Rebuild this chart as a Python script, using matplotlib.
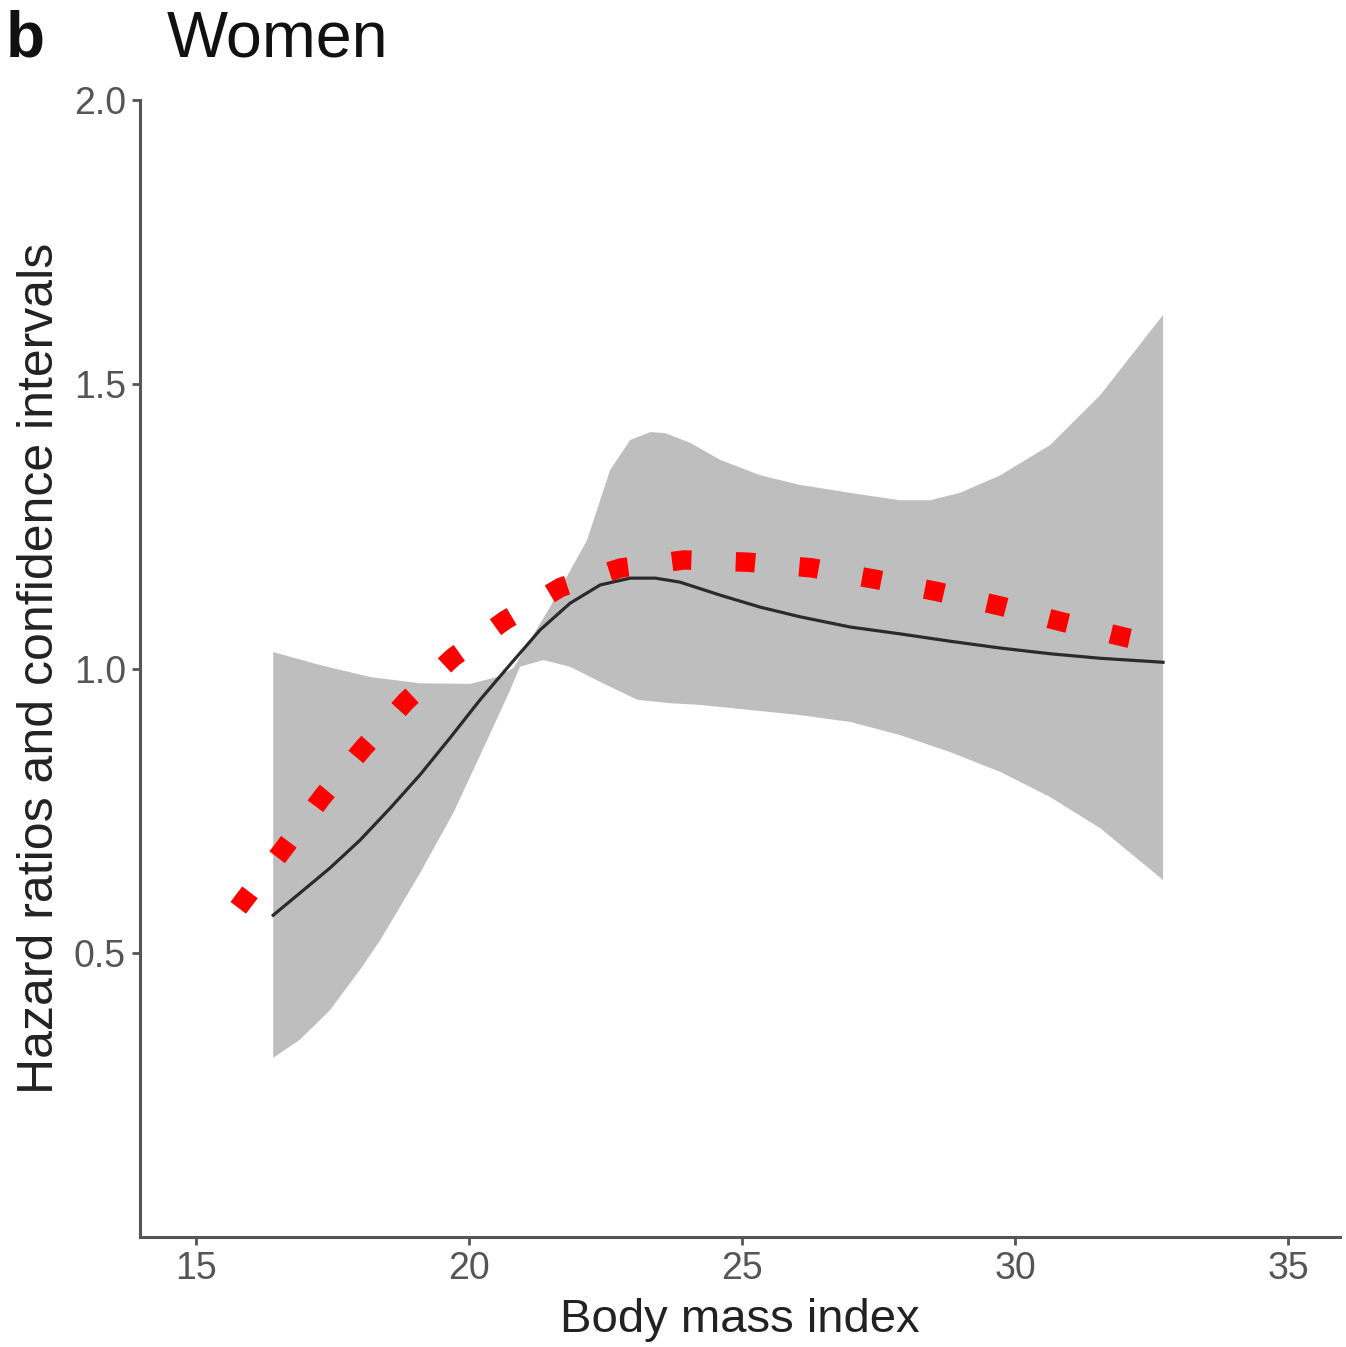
import matplotlib.pyplot as plt
import numpy as np

plt.rcParams['font.family'] = ['Liberation Sans', 'DejaVu Sans']

# fitted hazard ratio curve
bmi_fit = [16.41, 16.90, 17.45, 18.00, 18.55, 19.10, 19.65, 20.20, 20.75, 21.30,
           21.85, 22.40, 22.95, 23.41, 23.86, 24.60, 25.33, 26.06, 26.98, 27.89,
           28.81, 29.73, 30.64, 31.56, 32.71]
hr_fit = [0.566, 0.605, 0.649, 0.698, 0.754, 0.813, 0.878, 0.945, 1.007, 1.068,
          1.115, 1.147, 1.159, 1.159, 1.152, 1.129, 1.108, 1.091, 1.073, 1.061,
          1.048, 1.036, 1.026, 1.018, 1.011]

# confidence band, upper edge
bmi_up = [16.41, 17.27, 18.19, 19.10, 20.02, 20.51, 20.81, 21.48, 22.16, 22.58,
          22.95, 23.32, 23.59, 24.05, 24.60, 25.33, 26.06, 26.98, 27.89, 28.44,
          28.99, 29.73, 30.64, 31.56, 32.71]
ci_up = [1.029, 1.006, 0.985, 0.974, 0.973, 0.985, 1.001, 1.108, 1.226, 1.349,
         1.402, 1.416, 1.414, 1.397, 1.367, 1.340, 1.323, 1.309, 1.296, 1.296,
         1.309, 1.340, 1.393, 1.481, 1.622]

# confidence band, lower edge
bmi_lo = [16.41, 16.90, 17.45, 18.00, 18.37, 19.10, 19.71, 20.33, 20.75, 20.93,
          21.36, 21.85, 22.45, 23.08, 23.68, 24.23, 25.15, 26.06, 26.98, 27.89,
          28.81, 29.73, 30.64, 31.56, 32.71]
ci_lo = [0.315, 0.347, 0.399, 0.470, 0.522, 0.640, 0.746, 0.874, 0.962, 1.003,
         1.015, 1.003, 0.974, 0.945, 0.939, 0.936, 0.927, 0.918, 0.906, 0.883,
         0.853, 0.818, 0.774, 0.719, 0.628]

# red dotted curve
bmi_red = [15.77, 15.88, 16.61, 17.31, 18.06, 18.85, 19.71, 20.66, 21.68, 22.78,
           23.94, 25.11, 26.28, 27.44, 28.59, 29.73, 30.86, 32.01, 32.20]
hr_red = [0.579, 0.593, 0.684, 0.774, 0.860, 0.943, 1.020, 1.085, 1.143, 1.177,
          1.191, 1.187, 1.177, 1.157, 1.135, 1.110, 1.082, 1.055, 1.051]

fig = plt.figure(figsize=(13.46, 13.47), dpi=100)
ax = fig.add_axes([0.104, 0.0817, 0.8915, 0.844])

ax.fill(np.concatenate([bmi_up, bmi_lo[::-1]]),
        np.concatenate([ci_up, ci_lo[::-1]]),
        color='#bebebe', lw=0, zorder=1)
ax.plot(bmi_fit, hr_fit, color='#2b2b2b', lw=2.3, zorder=2)
ax.plot(bmi_red, hr_red, color='#ff0000', lw=14,
        linestyle=(0, (1, 2.28)), dash_capstyle='butt', zorder=3)

ax.set_xlim(13.97, 35.95)
ax.set_ylim(0, 2.0)
ax.set_xticks([15, 20, 25, 30, 35])
ax.set_yticks([0.5, 1.0, 1.5, 2.0])
ax.set_yticklabels(['0.5', '1.0', '1.5', '2.0'])

for s in ['top', 'right']:
    ax.spines[s].set_visible(False)
for s in ['left', 'bottom']:
    ax.spines[s].set_color('#555555')
    ax.spines[s].set_linewidth(2.2)
ax.tick_params(axis='both', length=6, width=2, color='#555555',
               labelcolor='#555555', labelsize=27, pad=4)

ax.set_xlabel('Body mass index', fontsize=34, color='#222222', labelpad=8)
ax.set_ylabel('Hazard ratios and confidence intervals', fontsize=36,
              color='#222222', labelpad=8)

fig.text(0.004, 0.958, 'b', fontsize=46, fontweight='bold', color='#111111')
fig.text(0.124, 0.958, 'Women', fontsize=46.5, color='#111111')

fig.savefig('out.png', dpi=100)
